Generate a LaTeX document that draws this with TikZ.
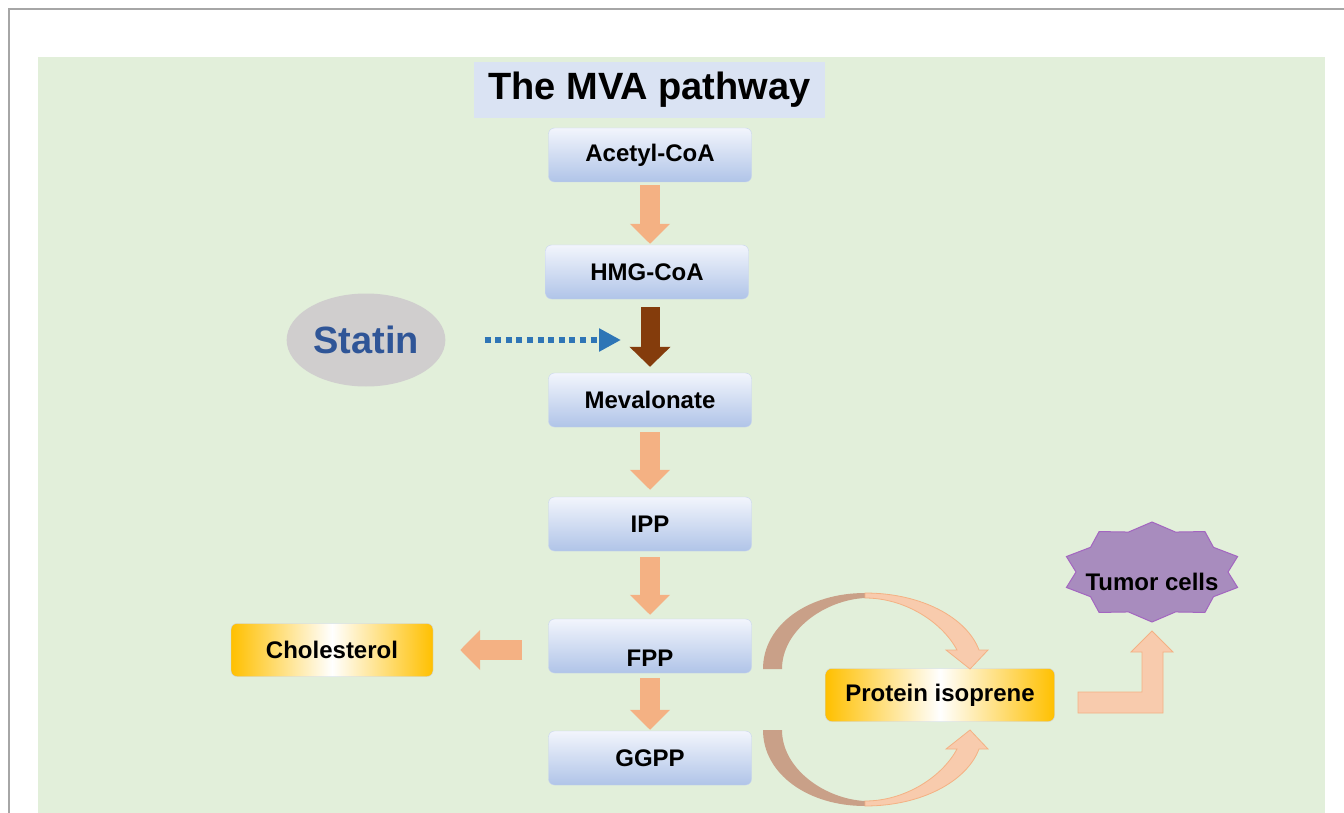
\documentclass[tikz,border=0pt]{standalone}
\usepackage{fontspec}
\setmainfont{Liberation Sans}
\usetikzlibrary{arrows.meta, shapes.geometric}

\definecolor{bggreen}{HTML}{E2EFDA}
\definecolor{titleblue}{HTML}{DAE3F3}
\definecolor{boxtop}{HTML}{F2F5FC}
\definecolor{boxbot}{HTML}{B0C4E8}
\definecolor{boxline}{HTML}{C8D4EE}
\definecolor{gold}{HTML}{FFC000}
\definecolor{orangearrow}{HTML}{F4B183}
\definecolor{lightorange}{HTML}{F8CBAD}
\definecolor{darkband}{HTML}{C9A088}
\definecolor{brownarrow}{HTML}{843C0C}
\definecolor{statingray}{HTML}{D0CECE}
\definecolor{statinblue}{HTML}{2F5597}
\definecolor{dotblue}{HTML}{2E75B6}
\definecolor{tumorfill}{RGB}{168,140,190}
\definecolor{tumorline}{RGB}{163,102,192}
\newcommand{\boxfont}{\fontsize{24}{28}\selectfont\bfseries}

\begin{document}
\begin{tikzpicture}
    [
        x=1pt, y=-1pt,
        pathbox/.style = {draw=boxline, rounded corners=6pt, top color=boxtop, bottom color=boxbot, minimum width=203pt, minimum height=54pt, inner sep=2pt, font=\boxfont},
        goldbox/.style = {draw=boxline, rounded corners=6pt, left color=gold, right color=gold, middle color=white, minimum height=53pt, inner sep=2pt, font=\boxfont},
        steparrow/.style = {draw=orangearrow, line width=20pt, -{Triangle[length=20pt, width=39pt]}},
        lightband/.style = {fill=lightorange, draw=orangearrow, line width=0.8pt},
    ]

    \useasboundingbox (0,0) rectangle (1344,813);
    \fill[white] (0,0) rectangle (1344,813);
    \draw[gray!70, line width=1.2pt] (9,813) -- (9,9) -- (1344,9);
    \fill[bggreen] (38,57) rectangle (1325,813);

    \node[fill=titleblue, minimum width=351pt, minimum height=56pt, font=\fontsize{38}{42}\selectfont\bfseries] (title) at (649.5,90) {The MVA pathway};

    \node[pathbox] (acetyl) at (650,155) {Acetyl-CoA};
    \node[pathbox] (hmg)    at (647,272) {HMG-CoA};
    \node[pathbox] (meva)   at (650,400) {Mevalonate};
    \node[pathbox] (ipp)    at (650,524) {IPP};
    \node[pathbox, text height=40pt] (fpp) at (650,646) {FPP};
    \node[pathbox] (ggpp)   at (650,758) {GGPP};

    \node[goldbox, minimum width=202pt] (chol) at (332,650) {Cholesterol};
    \node[goldbox, minimum width=229pt] (prot) at (940,695) {Protein isoprene};

    \node[ellipse, fill=statingray, minimum width=138pt, minimum height=93pt, text=statinblue, font=\fontsize{38}{42}\selectfont\bfseries] (statin) at (366,340) {Statin};
    \coordinate (inhibit) at (621,340);

    \draw[steparrow, shorten <=3pt, shorten >=1pt] (acetyl.south) -- (acetyl.south |- hmg.north);
    \draw[draw=brownarrow, line width=19pt, -{Triangle[length=20pt, width=40pt]}, shorten <=8pt, shorten >=6pt] (meva.north |- hmg.south) -- (meva.north);
    \draw[steparrow, shorten <=5pt, shorten >=7pt] (meva.south) -- (ipp.north);
    \draw[steparrow, shorten <=6pt, shorten >=4pt] (ipp.south) -- (fpp.north);
    \draw[steparrow, shorten <=5pt, shorten >=1pt] (fpp.south) -- (ggpp.north);
    \draw[steparrow, shorten <=26pt, shorten >=27pt] (chol.east -| fpp.west) -- (chol.east);
    \draw[dotblue, line width=6pt, dash pattern=on 6pt off 4.6pt, -{Triangle[length=22pt, width=22pt]}, shorten <=39pt] (statin.east) -- (inhibit);

    % curved arrows into protein isoprene
    \fill[darkband] (763,669) .. controls (763,625) and (808,593) .. (865,593) -- (865,598) .. controls (825,600) and (782,630) .. (782,669) -- cycle;
    \draw[lightband] (865,593) .. controls (922,593) and (967,618) .. (979,650) -- (988,650) -- (970,669) -- (946,650) -- (957,650) .. controls (942,622) and (905,598) .. (865,598) -- cycle;
    \fill[darkband] (763,730) .. controls (763,774) and (808,806) .. (865,806) -- (865,801) .. controls (825,799) and (782,769) .. (782,730) -- cycle;
    \draw[lightband] (865,806) .. controls (922,806) and (967,781) .. (979,749) -- (988,749) -- (970,730) -- (946,749) -- (957,749) .. controls (942,777) and (905,801) .. (865,801) -- cycle;

    % tumor cells
    \draw[fill=tumorfill, draw=tumorline, line width=1pt, shift={(1152,572)}] (90:90pt and 50pt)
        \foreach \a in {0,36,...,324} { -- (90+\a:90pt and 50pt) -- (108+\a:76pt and 42pt) } -- cycle;
    \node[font=\boxfont] (tumor) at (1152,582) {Tumor cells};

    \draw[lightband] (1078,692) -- (1142,692) -- (1142,652) -- (1131,652) -- (1152,631) -- (1173,652) -- (1163,652) -- (1163,713) -- (1078,713) -- cycle;

\end{tikzpicture}
\end{document}
